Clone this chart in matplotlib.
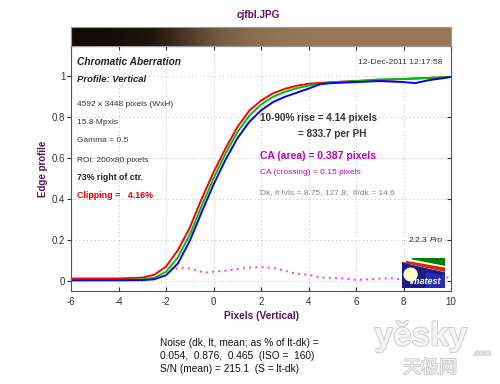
import numpy as np
import matplotlib.pyplot as plt
import matplotlib.patheffects as pe
from matplotlib.colors import to_rgb
from matplotlib.patches import Polygon, Ellipse, Rectangle

plt.rcParams['font.family'] = ['Liberation Sans', 'DejaVu Sans']
plt.rcParams['axes.unicode_minus'] = False

# edge profiles
x_red = [-6, -5, -4, -3, -2.5, -2, -1.5, -1, -0.5, 0, 0.5, 1, 1.5, 2, 2.5, 3, 3.5, 4, 5, 6, 7, 8, 9, 10]
red = [0.012, 0.012, 0.012, 0.016, 0.03, 0.07, 0.15, 0.26, 0.40, 0.53, 0.645, 0.75, 0.83, 0.88, 0.915,
       0.937, 0.952, 0.962, 0.97, 0.975, 0.98, 0.985, 0.99, 0.995]
x_green = [-6, -5, -4, -3, -2.5, -2, -1.5, -1, -0.5, 0, 0.5, 1, 1.5, 2, 2.5, 3, 3.5, 4, 5, 6, 7, 8, 9, 10]
green = [0.005, 0.005, 0.005, 0.007, 0.015, 0.045, 0.115, 0.225, 0.365, 0.50, 0.62, 0.725, 0.805, 0.86,
         0.898, 0.922, 0.94, 0.953, 0.968, 0.975, 0.983, 0.985, 0.99, 0.995]
x_blue = [-6, -5, -4, -3, -2.5, -2, -1.5, -1, -0.5, 0, 0.5, 1, 1.5, 2, 2.5, 3, 3.5, 4, 4.5, 5, 6, 7,
          8, 8.5, 9, 10]
blue = [0.003, 0.003, 0.003, 0.004, 0.008, 0.028, 0.085, 0.195, 0.335, 0.47, 0.59, 0.695, 0.775, 0.832,
        0.872, 0.898, 0.918, 0.938, 0.96, 0.965, 0.97, 0.975, 0.97, 0.965, 0.978, 0.995]

# CA (difference) curve
x_ca = [-1.6, -1.2, -0.8, -0.4, 0, 0.5, 1, 1.5, 2, 2.5, 3, 3.5, 4, 4.5, 5, 5.5, 6, 6.5, 7, 7.5,
        8, 8.5, 9, 9.5, 10]
ca = [0.06, 0.065, 0.055, 0.04, 0.045, 0.05, 0.058, 0.065, 0.068, 0.064, 0.05, 0.035, 0.03, 0.017,
      0.015, 0.012, 0.005, 0.008, 0.012, 0.013, 0.006, 0.006, 0.01, 0.022, 0.015]

# brightness of the edge strip at the top
bar_x = [-6, -4, -2.7, -2.05, -1.45, -0.6, 0.05, 0.7, 1.5, 2.8, 4, 10]
bar_level = [0, 0.02, 0.08, 0.2, 0.35, 0.55, 0.7, 0.8, 0.9, 0.97, 1, 1]

x_ticks = [-6, -4, -2, 0, 2, 4, 6, 8, 10]
y_ticks = [0, 0.2, 0.4, 0.6, 0.8, 1]
y_ticklabels = ['0', '0.2', '0.4', '0.6', '0.8', '1']

W, H = 500, 384
purple = '#5e0f5e'
fig = plt.figure(figsize=(W / 100, H / 100), dpi=100)
ax = fig.add_axes([71 / W, 93 / H, 380 / W, 245 / H])

ax.plot(x_red, red, color='#ff0000', lw=1.4)
ax.plot(x_green, green, color='#00c000', lw=1.4)
ax.plot(x_blue, blue, color='#0000ff', lw=1.4)
ax.plot(x_ca, ca, color='#ff30ff', lw=1.4, ls=(0, (1, 2.2)))

ax.set_xlim(-6, 10)
ax.set_ylim(-0.049, 1.146)
ax.set_xticks(x_ticks)
ax.set_yticks(y_ticks)
ax.set_yticklabels(y_ticklabels)
ax.grid(True, ls=(0, (1, 3)), color='#bbbbbb', lw=0.7)
ax.tick_params(axis='x', direction='in', top=True, length=3, labelsize=7, colors='#333333', pad=4)
ax.tick_params(axis='y', direction='out', length=3, labelsize=7, colors='#333333', pad=1)
ax.tick_params(axis='y', which='both', right=True)
for t in ax.yaxis.get_major_ticks():
    t.tick2line.set_marker(0)
    t.tick2line.set_markersize(3)
for s in ax.spines.values():
    s.set_color('#555555')
    s.set_linewidth(0.8)
ax.set_xlabel('Pixels (Vertical)', color=purple, fontsize=7.3, fontweight='bold', labelpad=3)
ax.set_ylabel('Edge profile', color=purple, fontsize=7, fontweight='bold', labelpad=3)

# edge strip at the top: one thin column per step, dark side -> light side
bax = fig.add_axes([71 / W, (H - 46) / H, 380 / W, 19 / H])
dark = np.array(to_rgb('#130c06'))
light = np.array(to_rgb('#967657'))
edges = np.linspace(-6, 10, 191)
mids = (edges[:-1] + edges[1:]) / 2
lev = np.interp(mids, bar_x, bar_level)
for x0, x1, v in zip(edges[:-1], edges[1:], lev):
    c = tuple(dark + v * (light - dark))
    bax.add_patch(Rectangle((x0, 0), x1 - x0 + 0.01, 1, facecolor=c, edgecolor='none', lw=0))
bax.set_xlim(-6, 10)
bax.set_ylim(0, 1)
bax.set_xticks([])
bax.set_yticks([])
for s in bax.spines.values():
    s.set_color('#999999')
    s.set_linewidth(0.8)

fig.text(258 / W, 1 - 15 / H, 'cjfbl.JPG', color=purple, fontsize=7.2, fontweight='bold',
         ha='center', va='center')


def put(x, y, s, **kw):
    kw.setdefault('color', '#333333')
    kw.setdefault('fontsize', 6)
    fig.text(x / W, 1 - y / H, s, va='center', **kw)


put(77, 62, 'Chromatic Aberration', fontsize=7.3, fontweight='bold', style='italic', color='#222222')
put(77, 79, 'Profile: Vertical', fontsize=6.8, fontweight='bold', style='italic', color='#222222')
put(77, 104, '4592 x 3448 pixels (WxH)')
put(77, 122, '15.8 Mpxls')
put(77, 141, 'Gamma = 0.5')
put(77, 160, 'ROI: 200x80 pixels')
put(77, 177, '73% right of ctr.', fontsize=6.3, fontweight='bold', color='#222222')
put(77, 196, 'Clipping =   4.16%', fontsize=6.4, fontweight='bold', color='#ee0000')
put(443, 62, '12-Dec-2011 12:17:58', ha='right', fontsize=6.1)
put(260, 118, '10-90% rise = 4.14 pixels', fontsize=7.2, fontweight='bold', color='#333333')
put(298, 134, '= 833.7 per PH', fontsize=7.2, fontweight='bold', color='#333333')
put(260, 156, 'CA (area) = 0.387 pixels', fontsize=7.5, fontweight='bold', color='#c000c0')
put(260, 173, 'CA (crossing) = 0.15 pixels', fontsize=6, color='#cc00cc')
put(260, 193, 'Dk, lt lvls = 8.75, 127.8;  lt/dk = 14.6', fontsize=6, color='#808080')
put(427, 240, '2.2.3', ha='right', fontsize=6, color='#222222')
put(430, 240, 'Pro', fontsize=6, style='italic', color='#222222')

put(160, 343, 'Noise (dk, lt, mean; as % of lt-dk) =', fontsize=7.3, color='#111111')
put(160, 356, '0.054,  0.876,  0.465  (ISO =  160)', fontsize=7.3, color='#111111')
put(160, 369, 'S/N (mean) = 215.1  (S = lt-dk)', fontsize=7.3, color='#111111')

# Imatest logo
lax = fig.add_axes([402 / W, (H - 288) / H, 43 / W, 30 / H])
lax.set_xlim(0, 1)
lax.set_ylim(0, 1)
lax.axis('off')
lax.add_patch(Rectangle((0, 0), 1, 1, color='#1c1c88'))
lax.add_patch(Rectangle((0.55, 0), 0.45, 0.55, color='#2a2ab8'))
lax.add_patch(Polygon([(0, 1), (1, 1), (1, 0.42), (0, 0.9)], color='white'))
lax.add_patch(Polygon([(0.25, 1), (1, 1), (1, 0.76), (0.25, 0.97)], color='#008000'))
lax.add_patch(Polygon([(0.1, 0.88), (1, 0.66), (1, 0.56), (0.1, 0.84)], color='#dd2200'))
lax.add_patch(Polygon([(0, 0.82), (1, 0.5), (1, 0.42), (0, 0.74)], color='#1c1c88'))
lax.add_patch(Ellipse((0.2, 0.45), 0.3, 0.42, color='#ffffc8'))
lax.text(0.55, 0.2, 'Imatest', color='white', fontsize=6.5, fontweight='bold', style='italic',
         ha='center', va='center')

# watermark
stroke = [pe.withStroke(linewidth=1.2, foreground='#c8c8c8')]
fig.text(421 / W, 1 - 337 / H, 'yĕsky', fontsize=24, fontweight='bold', color='#f4f4f4',
         ha='center', va='center', path_effects=stroke)
fig.text(482 / W, 1 - 354 / H, '.com', fontsize=6, color='#f0f0f0', ha='center', va='center',
         path_effects=[pe.withStroke(linewidth=0.8, foreground='#c8c8c8')])
fig.text(430 / W, 1 - 368 / H, '天极网', fontsize=13, color='#f4f4f4', ha='center', va='center',
         family=['Noto Sans CJK SC', 'DejaVu Sans'], path_effects=stroke)

fig.savefig('out.png', dpi=100)
